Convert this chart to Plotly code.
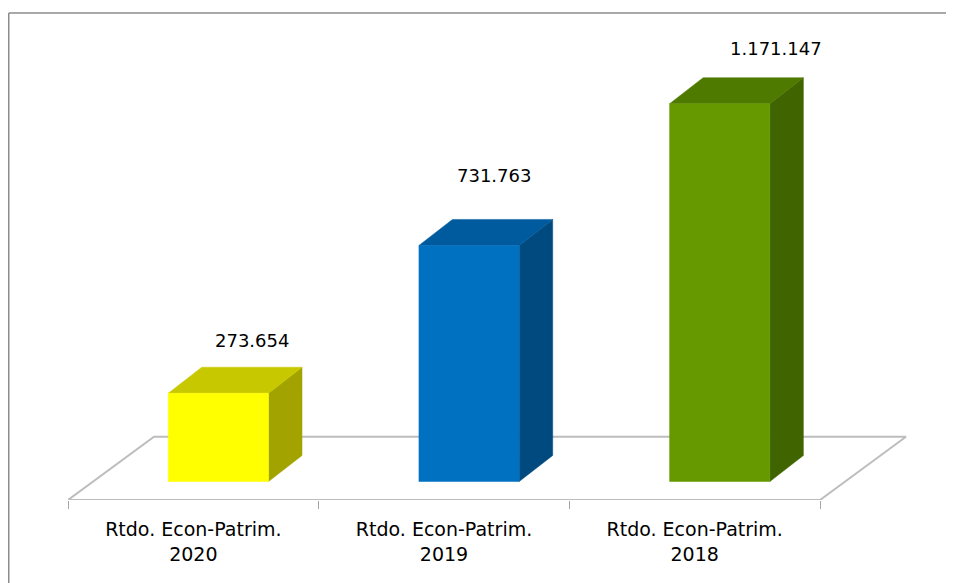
import plotly.graph_objects as go

categories = ["Rtdo. Econ-Patrim.<br>2020", "Rtdo. Econ-Patrim.<br>2019", "Rtdo. Econ-Patrim.<br>2018"]
values = [273654, 731763, 1171147]
front_colors = ["#FFFF00", "#0070C0", "#669900"]
top_colors = ["#C8C800", "#005A9E", "#4F7A00"]
side_colors = ["#A3A300", "#004A80", "#3F6400"]

# ---- geometry (pixel-based constants converted to axis units) ----
UNITS_PER_PX = 3100.0          # y-axis value per pixel
X_PER_PX = 3 / 752.0           # x-axis units per pixel (one category = 250.7 px)
BAR_SHIFT = 0.1
BAR_W = 0.4
DEPTH_X = 33.5 * X_PER_PX
DEPTH_Y = 26 * UNITS_PER_PX
FLOOR_FRONT = -18.5 * UNITS_PER_PX
FLOOR_BACK = 44.8 * UNITS_PER_PX
FLOOR_DX = 86 * X_PER_PX
LABEL_DX_PX = [34, 25, 56]
LABEL_DY_PX = [27, 44, 29]

FIG_W, FIG_H = 946, 575
M_L, M_R, M_T, M_B = 60, 44, 2, 83
PLOT_W = FIG_W - M_L - M_R
PLOT_H = FIG_H - M_T - M_B

FONT = "DejaVu Sans"

fig = go.Figure()
n = len(values)

# floor
fig.add_trace(go.Scatter(
    x=[-0.5, n - 0.5, n - 0.5 + FLOOR_DX, -0.5 + FLOOR_DX, -0.5],
    y=[FLOOR_FRONT, FLOOR_FRONT, FLOOR_BACK, FLOOR_BACK, FLOOR_FRONT],
    mode="lines", fill="toself", fillcolor="white",
    line=dict(color="#BDBDBD", width=2), hoverinfo="skip", showlegend=False))

for i, v in enumerate(values):
    x0 = i + BAR_SHIFT - BAR_W / 2
    x1 = i + BAR_SHIFT + BAR_W / 2
    fig.add_trace(go.Scatter(
        x=[x1, x1 + DEPTH_X, x1 + DEPTH_X, x1, x1],
        y=[0, DEPTH_Y, v + DEPTH_Y, v, 0],
        mode="lines", fill="toself", fillcolor=side_colors[i],
        line=dict(color=side_colors[i], width=0.5), hoverinfo="skip", showlegend=False))
    fig.add_trace(go.Scatter(
        x=[x0, x1, x1 + DEPTH_X, x0 + DEPTH_X, x0],
        y=[v, v, v + DEPTH_Y, v + DEPTH_Y, v],
        mode="lines", fill="toself", fillcolor=top_colors[i],
        line=dict(color=top_colors[i], width=0.5), hoverinfo="skip", showlegend=False))
    fig.add_trace(go.Scatter(
        x=[x0, x1, x1, x0, x0],
        y=[0, 0, v, v, 0],
        mode="lines", fill="toself", fillcolor=front_colors[i],
        line=dict(color=front_colors[i], width=0.5), hoverinfo="skip", showlegend=False))
    fig.add_annotation(
        x=i + BAR_SHIFT + LABEL_DX_PX[i] * X_PER_PX,
        y=v + DEPTH_Y + LABEL_DY_PX[i] * UNITS_PER_PX,
        text=f"{v:,}".replace(",", "."), showarrow=False,
        xanchor="center", yanchor="middle",
        font=dict(family=FONT, size=18, color="black"))

fig.update_xaxes(
    range=[-0.5, -0.5 + PLOT_W * X_PER_PX],
    tickvals=list(range(n)), ticktext=categories,
    ticks="", ticklabelstandoff=16,
    showgrid=False, zeroline=False, showline=False,
    tickfont=dict(family=FONT, size=19, color="black"),
    minor=dict(tickvals=[i - 0.5 for i in range(n + 1)], ticks="outside",
               ticklen=8, tickcolor="#A6A6A6", tickwidth=1, showgrid=False),
)
fig.update_yaxes(
    range=[-18.5 * UNITS_PER_PX, (PLOT_H - 18.5) * UNITS_PER_PX],
    visible=False, showgrid=False, zeroline=False)

# outer chart frame (left and top edges visible)
fx = (0.75 - M_L) / PLOT_W
fy = (FIG_H - M_B - 5) / PLOT_H
fig.add_shape(type="line", xref="paper", yref="paper",
              x0=fx, x1=fx, y0=-0.3, y1=fy,
              line=dict(color="#8C8C8C", width=1.5))
fig.add_shape(type="line", xref="paper", yref="paper",
              x0=fx, x1=1.2, y0=fy, y1=fy,
              line=dict(color="#8C8C8C", width=1.5))

fig.update_layout(
    width=FIG_W, height=FIG_H,
    margin=dict(l=M_L, r=M_R, t=M_T, b=M_B),
    paper_bgcolor="white", plot_bgcolor="white",
    showlegend=False,
)

fig.write_html("out.html")
